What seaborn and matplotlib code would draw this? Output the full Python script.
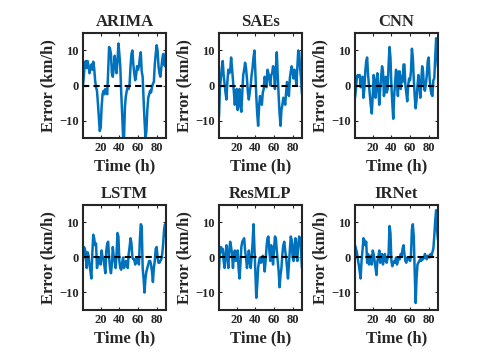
import numpy as np
import pandas as pd
import matplotlib
matplotlib.use('Agg')
import matplotlib.pyplot as plt
import seaborn as sns

# prediction error per hour (km/h)
hours = list(range(1, 91))

arima = [0, 3, 6.5, 7, 5, 7, 5.5, 3.5, 5, 6, 4.5, 6.8, 5, 1.5, -0.5, -1.5, -5, -9, -13, -12,
         -6, -2.5, -1.5, -2.5, -1, -2, -2.5, 4, 11, 10.5, 9, 3.5, 2.5, 5, 8.5, 6, 3.5, 7, 12, 9,
         5.5, -2, -8, -14.5, -15, -6, -3, -1.5, -0.5, -1, 0.5, 5.5, 9, 10, 6, 3.5, 1.5, 3, 5.5, 4.5,
         5.5, 8, 9.5, 4, 2.5, -4, -10, -15, -13, -7, -3.5, -2.5, -1.5, -2, -0.5, 0.5, 1, 6, 9, 11.5,
         10, 5.5, 3.5, 2.5, 5, 7.5, 9, 6, 5.5, 9.5]

saes = [-9, -1, 2, 5, 7, 3, 0.5, -2, -4, 1, 4.5, 3.5, 4, 8, 5, 1.5, -2, -5.5, -2, -1,
        -7, -4, -1, -6, -7.5, -2, 3, 4.5, 6.5, 5, 2, -2, -4, -2, 0, 3, 5, 8, 10, 4,
        -3, -8, -11.5, -6, -3, -4, -5.5, -2, -1, 2.5, 1, -0.5, 4.5, 3.5, 2, 0, 3, 3.5, 5.5, 4,
        -1, 5, 9.5, 3, -3, -8, -11.5, -7, -5.5, -3.5, -4, -5.5, -2, 1, -1, -3, 2, 4, 5.5, 4,
        2, 4.5, 3, 0, 5, 10, 9.5, 5, 2, -2.5]

cnn = [-3.5, -1, 2.5, 3, 2.5, 3, -0.5, 2, 2.5, -3.5, -1, 4, 7, 8, 3, 0, -3, -6, -8, -3,
       3, 1, -3.5, 1, 3.5, -1, -5.5, -1, 2.5, 5.5, 4, -3, -1, 2.5, -2, -1, 6, 11, 8, 0,
       -5, -9.5, -3, 1, 4.5, 1, -3, 4, 4, -1, 2.5, 1, 6, 6, 0, -2, -4.5, 0, 2, 1.5,
       4, 10.5, 8, 2, -3, -6.5, -4, 0, 3, 0, -3.5, 1, 5.5, 4, -1, -1.5, 0.5, 3, 7, 8,
       2, -1, -2.5, -3, 1.5, 2, 8, 13.5, 9, 5]

lstm = [-1, 3, 2.5, 1, -3, 1.5, 0.5, -2, -4, -6, 1, 6.5, 5.5, 3.5, 4, -3, -1.5, 0, -1.5, -2,
        2, 0, -0.5, -2.5, -4.5, 2, 4, 4.5, 0, -3, -4.5, -2, 3, 0, -1, -3, 1, 7, 6, -1,
        -3, -3.5, -1.5, 0, -3, -2, -1, -2, -3, 1, 3, 5.5, 4, 0, -0.5, -0.5, -2, -1, 0, -1,
        -2, 5, 9.5, 9, -3, -6, -10, -6, -4, -3, -2, -1, -1, -2, -4, -7, -3, -1, 2.5, 3,
        0, -1.5, -1.5, -1, -0.5, 1, 4, 8, 9.5, 6]

resmlp = [-3.5, 2, 3, 1.5, 2.5, -1, -3, 1, 3.5, 0, -3, 2, 4.5, 3, 1, -3, 1, 2, -1, 0.5,
          2, -3, -6, -2, 3, 4.5, 5, 5.5, 2, 0, -3, -1, 2, -1, -3, 0, 4, 9.5, 3, -4,
          -11.5, -8, -3, -1, 0, -1.5, -1, 0.5, -1, -4, -1, 3, 5.5, 6, 2, -1, 3.5, 1, -2, 2,
          6, 5.5, 2, -1, -4, -8.5, -5, -3, 1, 3.5, 4.5, 2, 0, -3, -6, -2, 2, 6, 5, 0,
          -1, 3.5, 5.5, 1, -1, 4, 6, 5, 2, -3]

irnet = [3.5, 2.5, 1.5, -0.5, -2, -4, -6, -1, 2, 5.5, 5, 3.5, 4.5, -1.5, 1, -2, -0.5, 0.5, -2, 2,
         1, -1, -3, -5, -1, 0, 2, -1.5, -0.5, 1, -2, 0, 1, -1, -1.5, 0, 1, 9, 7, -1,
         -2.5, -1.5, -1, -1.5, 0, -2, -1, 0, -0.5, 1, 0.5, 2.5, 3.5, 1, -1, -1.5, 0, -0.5, 0, -1,
         0.5, 8, 9.5, 6, -4, -13, -6, -2, -1.5, -1, -0.5, -1, 0, -0.5, 0, 1, 0, -0.5, 0.5, 0.5,
         0, 1, 0.5, 1.5, 2.5, 6, 10.5, 13.5, 8, 5]

models = ['ARIMA', 'SAEs', 'CNN', 'LSTM', 'ResMLP', 'IRNet']
errors = [arima, saes, cnn, lstm, resmlp, irnet]

sns.set_style('ticks')
plt.rcParams['font.family'] = ['Liberation Serif', 'DejaVu Serif']
plt.rcParams['font.weight'] = 'bold'
plt.rcParams['axes.titleweight'] = 'bold'
plt.rcParams['axes.labelweight'] = 'bold'

fig = plt.figure(figsize=(4.85, 3.63), dpi=100)

lefts = [0.1711, 0.4515, 0.7320]
bottoms = [0.6198, 0.1460]
w, h = 0.1711, 0.2893

for i, (name, err) in enumerate(zip(models, errors)):
    ax = fig.add_axes([lefts[i % 3], bottoms[i // 3], w, h])
    df = pd.DataFrame({'Time': hours, 'Error': err})
    sns.lineplot(data=df, x='Time', y='Error', ax=ax, color='#0072BD', linewidth=1.8)
    ax.axhline(0, color='black', linestyle='--', linewidth=1.5, dashes=(3, 2))
    ax.set_xlim(1, 90)
    ax.set_ylim(-15, 15)
    ax.set_xticks([20, 40, 60, 80])
    ax.set_yticks([-10, 0, 10])
    ax.tick_params(direction='in', length=2.5, width=0.8, labelsize=9, pad=3,
                   top=True, right=True, colors='#262626')
    for lab in ax.get_xticklabels() + ax.get_yticklabels():
        lab.set_fontweight('bold')
    for sp in ax.spines.values():
        sp.set_visible(True)
        sp.set_linewidth(1.5)
        sp.set_color('#262626')
    ax.set_title(name, fontsize=12, fontweight='bold', pad=5)
    ax.set_xlabel('Time (h)', fontsize=12, fontweight='bold', labelpad=3)
    ax.set_ylabel('Error (km/h)', fontsize=12, fontweight='bold', labelpad=2)

fig.savefig('out.png', dpi=100)
